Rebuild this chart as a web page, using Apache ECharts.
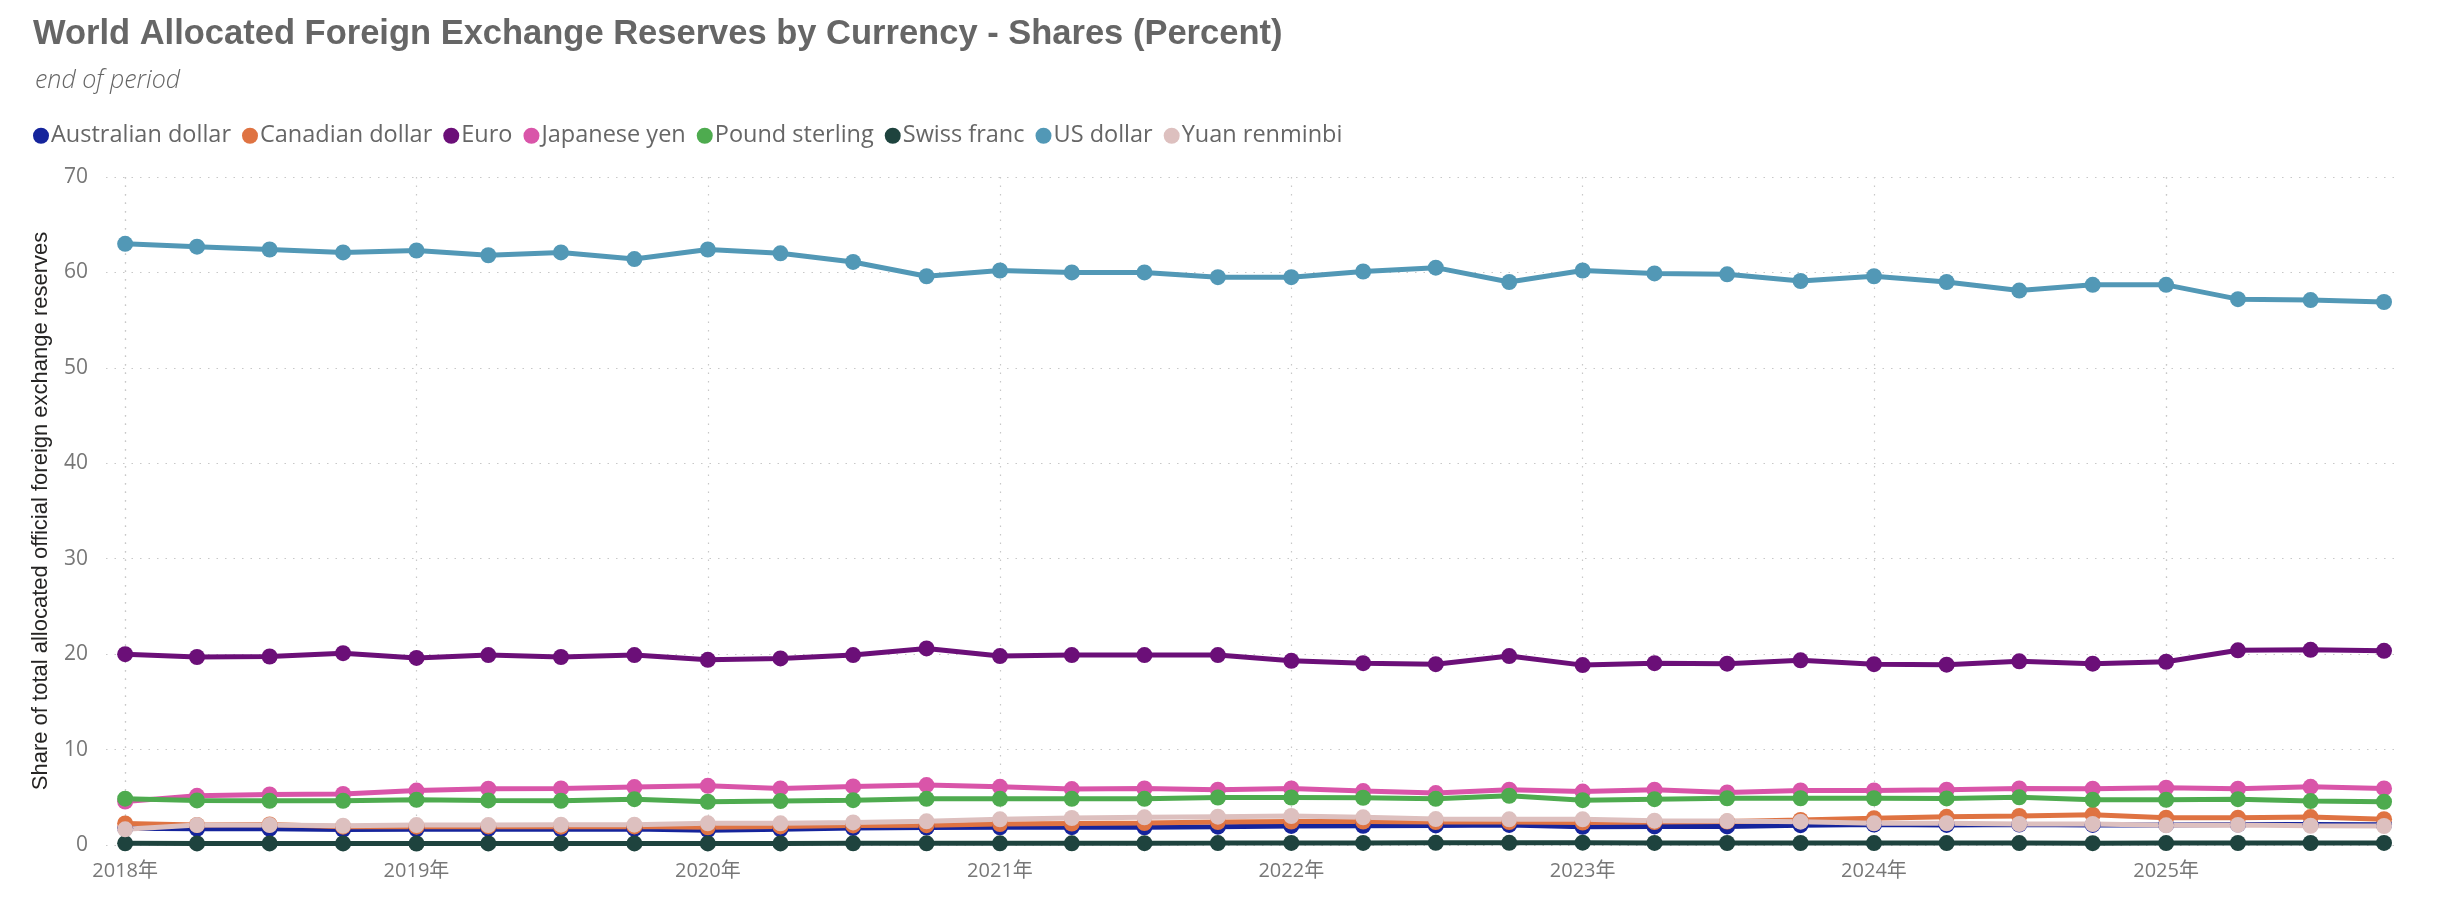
<!DOCTYPE html>
<html>
<head>
<meta charset="utf-8">
<title>World Allocated Foreign Exchange Reserves by Currency</title>
<script src="https://cdn.jsdelivr.net/npm/echarts@6/dist/echarts.min.js"></script>
<style>
  html, body { margin: 0; padding: 0; background: #fff; }
  #chart { width: 2454px; height: 920px; }
</style>
</head>
<body>
<div id="chart"></div>
<script>
// quarters, plotted at the start of each quarter
const quarters = [
  '2018-01-01', '2018-04-01', '2018-07-01', '2018-10-01',
  '2019-01-01', '2019-04-01', '2019-07-01', '2019-10-01',
  '2020-01-01', '2020-04-01', '2020-07-01', '2020-10-01',
  '2021-01-01', '2021-04-01', '2021-07-01', '2021-10-01',
  '2022-01-01', '2022-04-01', '2022-07-01', '2022-10-01',
  '2023-01-01', '2023-04-01', '2023-07-01', '2023-10-01',
  '2024-01-01', '2024-04-01', '2024-07-01', '2024-10-01',
  '2025-01-01', '2025-04-01', '2025-07-01', '2025-10-01'
]
const yearTicks = ['2018-01-01', '2019-01-01', '2020-01-01', '2021-01-01', '2022-01-01', '2023-01-01', '2024-01-01', '2025-01-01']

const australianDollar = [1.75, 1.7, 1.7, 1.62, 1.65, 1.68, 1.65, 1.68, 1.55, 1.65, 1.78, 1.83, 1.85, 1.87, 1.85, 1.92,
  2.0, 2.02, 2.05, 2.1, 1.9, 1.95, 1.95, 2.08, 2.15, 2.1, 2.15, 2.1, 2.1, 2.15, 2.15, 2.12]
const canadianDollar = [2.25, 2.1, 2.15, 1.92, 1.92, 1.95, 1.92, 1.95, 1.85, 1.95, 2.05, 2.08, 2.2, 2.25, 2.3, 2.4,
  2.45, 2.45, 2.4, 2.4, 2.35, 2.4, 2.45, 2.62, 2.8, 2.95, 3.05, 3.18, 2.86, 2.86, 2.93, 2.7]
const euro = [20.0, 19.7, 19.75, 20.1, 19.6, 19.9, 19.7, 19.9, 19.4, 19.55, 19.9, 20.6, 19.8, 19.9, 19.9, 19.9,
  19.3, 19.05, 18.95, 19.8, 18.85, 19.05, 19.0, 19.35, 18.95, 18.9, 19.25, 19.0, 19.2, 20.4, 20.45, 20.35]
const japaneseYen = [4.55, 5.15, 5.3, 5.35, 5.7, 5.9, 5.93, 6.07, 6.2, 5.93, 6.14, 6.28, 6.1, 5.86, 5.93, 5.8,
  5.93, 5.65, 5.44, 5.8, 5.6, 5.8, 5.5, 5.72, 5.72, 5.8, 5.93, 5.9, 6.0, 5.9, 6.1, 5.93]
const poundSterling = [4.85, 4.67, 4.63, 4.63, 4.74, 4.67, 4.63, 4.8, 4.53, 4.6, 4.7, 4.84, 4.84, 4.84, 4.84, 4.98,
  4.98, 4.95, 4.84, 5.16, 4.7, 4.8, 4.9, 4.9, 4.9, 4.88, 5.0, 4.74, 4.74, 4.8, 4.6, 4.53]
const swissFranc = [0.18, 0.17, 0.17, 0.17, 0.16, 0.17, 0.17, 0.17, 0.17, 0.17, 0.18, 0.18, 0.18, 0.18, 0.19, 0.2,
  0.22, 0.22, 0.23, 0.23, 0.24, 0.22, 0.21, 0.21, 0.2, 0.2, 0.2, 0.19, 0.2, 0.21, 0.21, 0.22]
const usDollar = [63.0, 62.7, 62.4, 62.1, 62.3, 61.8, 62.1, 61.4, 62.4, 62.0, 61.1, 59.6, 60.2, 60.0, 60.0, 59.5,
  59.5, 60.1, 60.5, 59.0, 60.2, 59.9, 59.8, 59.1, 59.6, 59.0, 58.1, 58.7, 58.7, 57.2, 57.1, 56.9]
const yuanRenminbi = [1.64, 2.09, 2.09, 2.02, 2.09, 2.09, 2.13, 2.13, 2.27, 2.27, 2.37, 2.48, 2.69, 2.83, 2.9, 2.97,
  3.04, 2.9, 2.72, 2.69, 2.69, 2.55, 2.51, 2.44, 2.27, 2.27, 2.2, 2.2, 2.06, 2.1, 2.02, 1.99]

const currencies = [
  { name: 'Australian dollar', color: '#15249C', values: australianDollar },
  { name: 'Canadian dollar', color: '#DF7342', values: canadianDollar },
  { name: 'Euro', color: '#6B0F78', values: euro },
  { name: 'Japanese yen', color: '#D955A9', values: japaneseYen },
  { name: 'Pound sterling', color: '#4EAB4F', values: poundSterling },
  { name: 'Swiss franc', color: '#1E433E', values: swissFranc },
  { name: 'US dollar', color: '#5298B6', values: usDollar },
  { name: 'Yuan renminbi', color: '#DDC0BF', values: yuanRenminbi }
]

const uiFont = "'Segoe UI', 'Open Sans', 'Noto Sans CJK SC', sans-serif"
const gridLine = { show: true, lineStyle: { color: '#c8c8c8', type: [1.5, 7], width: 1.2 } }
const yearValues = yearTicks.map(d => echarts.time.parse(d).getTime())

const chart = echarts.init(document.getElementById('chart'))
chart.setOption({
  animation: false,
  backgroundColor: '#fff',
  title: [{
    text: 'World Allocated Foreign Exchange Reserves by Currency - Shares (Percent)',
    left: 28,
    top: 12,
    textStyle: {
      fontFamily: "'Liberation Sans', Arial, sans-serif",
      fontWeight: 'bold',
      fontSize: 34.5,
      color: '#666666'
    }
  }, {
    text: 'end of period',
    left: 30,
    top: 63,
    textStyle: {
      fontFamily: uiFont,
      fontStyle: 'italic',
      fontWeight: 300,
      fontSize: 25,
      color: '#666666'
    }
  }],
  legend: {
    left: 28,
    top: 119,
    icon: 'circle',
    itemWidth: 16,
    itemHeight: 16,
    itemGap: 11,
    textStyle: {
      fontFamily: uiFont,
      fontSize: 23.5,
      color: '#666666',
      padding: [0, 0, 0, -3]
    },
    data: currencies.map(c => c.name)
  },
  grid: {
    left: 106,
    right: 58,
    top: 177,
    bottom: 75
  },
  xAxis: {
    type: 'time',
    min: '2017-12-08',
    max: '2025-10-16',
    axisLine: { show: false },
    axisTick: { show: false, customValues: yearValues },
    axisLabel: {
      customValues: yearValues,
      formatter: '{yyyy}年',
      margin: 16,
      fontFamily: uiFont,
      fontSize: 20,
      color: '#777777'
    },
    splitLine: gridLine
  },
  yAxis: {
    type: 'value',
    min: 0,
    max: 70,
    interval: 10,
    name: 'Share of total allocated official foreign exchange reserves',
    nameLocation: 'middle',
    nameGap: 54,
    nameTextStyle: {
      fontFamily: "'Liberation Sans', Arial, sans-serif",
      fontSize: 22,
      color: '#252423'
    },
    axisLine: { show: false },
    axisTick: { show: false },
    axisLabel: {
      margin: 18,
      fontFamily: uiFont,
      fontSize: 21,
      color: '#777777'
    },
    splitLine: gridLine
  },
  series: currencies.map(c => ({
    name: c.name,
    type: 'line',
    symbol: 'circle',
    symbolSize: 16,
    showSymbol: true,
    color: c.color,
    lineStyle: { width: 5, color: c.color },
    itemStyle: { color: c.color },
    data: quarters.map((q, i) => [q, c.values[i]])
  }))
})
</script>
</body>
</html>
